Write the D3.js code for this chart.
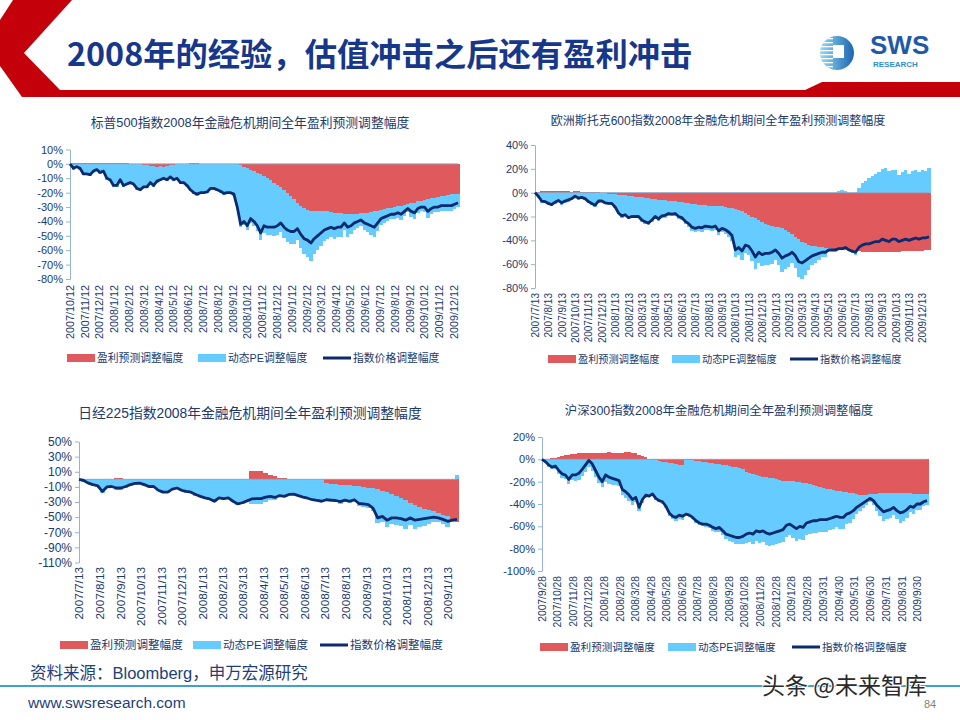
<!DOCTYPE html>
<html><head><meta charset="utf-8">
<script src="https://cdn.jsdelivr.net/npm/d3@7"></script>
<style>
body{margin:0;background:#fff}
svg{display:block}
</style></head><body>
<svg id="slide" width="960" height="720"></svg>
<script>
// ---- S&P 500 ----
const spLabels = ["2007/10/12","2007/11/12","2007/12/12","2008/1/12","2008/2/12","2008/3/12","2008/4/12","2008/5/12","2008/6/12","2008/7/12","2008/8/12","2008/9/12","2008/10/12","2008/11/12","2008/12/12","2009/1/12","2009/2/12","2009/3/12","2009/4/12","2009/5/12","2009/6/12","2009/7/12","2009/8/12","2009/9/12","2009/10/12","2009/11/12","2009/12/12"]
const spTicks = [10,0,-10,-20,-30,-40,-50,-60,-70,-80]
const spIdx = [0,-3,-2,-3,-7,-7,-7.5,-5,-4,-6,
  -5,-10,-11,-15,-15,-11,-15,-14,-13,-14,
  -17,-18,-16,-16,-13,-15,-12,-11,-10,-11,
  -9,-11,-10,-13,-13,-15,-18,-20,-21,-20,
  -20,-19.5,-17,-17,-18,-19,-20.5,-20,-20,-21,
  -30,-42,-40,-43,-38,-40,-43,-48,-43,-44,
  -44,-44,-43,-41,-44,-46,-47,-47,-45,-49,
  -52,-53,-55,-52,-50,-48,-46,-45,-44,-45,
  -44,-44,-41,-44,-43,-41,-40,-39,-41,-42,
  -43,-44,-41,-38,-37,-36,-35,-35,-34,-35,
  -33,-31,-33,-34,-31,-30,-30,-33,-31,-30,
  -30,-29,-29,-29,-29,-28,-27]
const spEarn = [0,0.5,0.5,0.5,0.5,0.5,0.5,0.5,0.5,0.3,
  0.3,0.3,0.3,0.5,0.5,0.5,0.5,0.3,0,0,
  0,0,-0.5,-1,-1.5,-1.5,-2,-1.5,-2,-1.5,
  -1,-0.5,0,0,0,0,0.3,0.5,0.3,0,
  0,0,0,0,0,0,0,0,0,0,
  0,-1,-2,-3,-4,-5,-6,-7,-8.5,-10,
  -11.5,-13,-14.5,-16,-18,-20,-22,-24.5,-27,-29.5,
  -31,-32,-32.5,-32.5,-32.5,-33,-33,-33,-33.5,-34,
  -34,-34,-34.5,-34.5,-34.5,-34.5,-34.5,-34,-34,-34,
  -33.5,-33,-32.5,-32,-31.5,-31,-30.5,-30,-29.5,-29,
  -28.5,-28,-27.5,-27,-26,-25.5,-25,-24.5,-24,-23.5,
  -23,-22.5,-22,-21.5,-21,-21,-21]
const spPE = [0,-4,-3,-4,-8,-8,-8.5,-6,-5,-7,
  -6,-11,-12,-16,-16,-12,-16,-15,-14,-15,
  -18,-19,-16.5,-16,-12.5,-14.5,-11,-10.5,-9,-10.5,
  -9,-11.5,-11,-14,-14,-16,-19,-21,-22,-21,
  -21,-20.5,-18,-18,-19,-20,-21.5,-21,-21,-22,
  -31,-43,-40.3,-42.7,-36.9,-38.3,-40.9,-45.6,-39.2,-39.3,
  -38.2,-37.1,-34.8,-31.3,-33.2,-34,-33.6,-31.3,-26.2,-29.2,
  -31.9,-32.4,-34.8,-30.4,-27.4,-23.9,-20.9,-19.4,-17.3,-18.2,
  -16.7,-16.7,-11.4,-16,-14.5,-11.4,-9.9,-9.1,-12.1,-13.6,
  -15.8,-17.9,-14.1,-10.3,-9.5,-8.7,-8,-8.6,-7.9,-10,
  -7.8,-5.7,-9.1,-11.1,-8.3,-7.5,-8.2,-12.8,-10.7,-10,
  -10.6,-9.9,-10.5,-11.1,-11.6,-10.4,-9.1]

// ---- STOXX 600 ----
const stLabels = ["2007/7/13","2007/8/13","2007/9/13","2007/10/13","2007/11/13","2007/12/13","2008/1/13","2008/2/13","2008/3/13","2008/4/13","2008/5/13","2008/6/13","2008/7/13","2008/8/13","2008/9/13","2008/10/13","2008/11/13","2008/12/13","2009/1/13","2009/2/13","2009/3/13","2009/4/13","2009/5/13","2009/6/13","2009/7/13","2009/8/13","2009/9/13","2009/10/13","2009/11/13","2009/12/13"]
const stTicks = [40,20,0,-20,-40,-60,-80]
const stIdx = [0,-3,-7,-7.5,-9,-10,-8,-6.5,-8.5,-7,
  -6,-5,-3,-4.5,-4,-5,-7.5,-9,-10.5,-7,
  -7,-8.5,-9,-9,-12,-17,-19.5,-18.5,-21,-20,
  -20,-20,-23,-24.5,-25.5,-23,-20,-22,-19.5,-19,
  -17.5,-18,-17.5,-20,-21,-24,-26,-29,-30,-29,
  -29.5,-28,-28.5,-29,-28,-32,-30,-31,-33,-36,
  -48,-46,-49,-44,-45,-49,-54,-50,-52,-51,
  -51,-50,-48,-51,-55,-53,-52,-50,-53,-58,
  -59,-57,-55,-53,-52,-51,-50,-50,-48,-48,
  -48,-47,-47,-46,-48,-49,-50,-46,-44,-43,
  -43,-42,-41,-41,-39,-40,-41,-39,-39,-41,
  -40,-39,-40,-39,-38,-39,-38,-38,-37]
const stEarn = [0,0.5,1,1,1,1.5,1,1,1.5,1,
  1,0.5,1,1,0.5,0.5,0.5,0.5,0.5,0.5,
  -0.3,-0.5,-0.8,-1,-1.3,-1.6,-2,-2.3,-2.6,-3,
  -3.3,-3.6,-4,-4.4,-4.8,-5.2,-5.5,-5.8,-6.1,-6.4,
  -6.7,-7,-7.3,-7.6,-8,-8.4,-8.8,-9.2,-9.6,-10,
  -10.4,-10.6,-10.8,-11,-11.2,-11.4,-11.6,-12,-12.5,-13,
  -13.5,-14.5,-15.5,-17,-18.5,-20,-21.5,-23,-24.5,-26,
  -27,-28,-28.5,-29,-30,-31.5,-33,-35,-37,-39,
  -41,-42.5,-43.5,-44.5,-45,-45.5,-46,-46.3,-46.6,-46.9,
  -47.2,-47.5,-47.7,-48,-48.2,-48.5,-48.8,-49,-49.5,-49.5,
  -49.7,-49.8,-50,-50,-50,-50,-49.8,-49.7,-49.5,-49.5,
  -49.3,-49.2,-49,-49,-48.8,-48.7,-48.6,-48.5,-48.5]
const stPE = [0,-4.5,-8.5,-9,-10.5,-11.5,-9.5,-8,-10,-8.5,
  -7.5,-6.5,-4.5,-6,-5.5,-6.5,-9,-10.5,-12,-8.5,
  -7.7,-9,-9.3,-9.1,-11.8,-16.7,-18.9,-17.6,-19.9,-18.5,
  -18.3,-18,-20.8,-22,-22.7,-19.8,-16.3,-18.2,-15.3,-14.5,
  -12.6,-12.8,-12,-14.4,-15.1,-18,-19.9,-22.8,-23.6,-22.1,
  -22.3,-20.5,-20.8,-21.2,-19.9,-24.3,-21.8,-22.6,-24.4,-27.4,
  -40.9,-37.8,-40.6,-33.5,-33.5,-37.3,-42.4,-36.1,-37.4,-34.8,
  -33.9,-31.6,-28.3,-32,-36.7,-32.4,-29.4,-24.1,-26.4,-32.1,
  -31.5,-26.2,-21.4,-16.3,-13.7,-11.1,-8.4,-7.9,-3.6,-3.1,
  -2.5,1,2.5,1,-1,-2,-3.3,4,8,10,
  12,14,16,17,20,21,18,19,19,15,
  17,19,16,18,19,17,19,18,21]

// ---- Nikkei 225 ----
const nkLabels = ["2007/7/13","2007/8/13","2007/9/13","2007/10/13","2007/11/13","2007/12/13","2008/1/13","2008/2/13","2008/3/13","2008/4/13","2008/5/13","2008/6/13","2008/7/13","2008/8/13","2008/9/13","2008/10/13","2008/11/13","2008/12/13","2009/1/13"]
const nkTicks = [50,30,10,-10,-30,-50,-70,-90,-110]
const nkIdx = [0,-1.5,-5,-7,-8.5,-16,-10,-9.5,-11.5,-11.5,
  -9.5,-7,-5.5,-5,-7,-9.5,-9.5,-14.5,-17,-17,
  -13,-11.5,-14.5,-16,-17,-20,-22.5,-24.5,-26,-29,
  -24.5,-25.5,-24.5,-29,-32.5,-31,-28.5,-26,-25.5,-25.5,
  -23.5,-22.5,-24,-21.5,-22.5,-20,-19.5,-21.5,-23.5,-25,
  -27,-28,-29,-27,-27.5,-28,-29.5,-27.5,-29,-27,
  -32,-32.5,-33.5,-38,-51,-49,-54,-51,-51,-52,
  -54,-51,-54,-53,-52,-51,-50,-51,-53,-55.5,
  -54,-53]
const nkEarn = [0,0.5,0.8,0.8,0.8,1,1,1,1.5,2,
  1,0.8,0.8,0.8,0.8,0.8,0.8,0.8,0.8,0.8,
  0.8,0.8,0.8,0.8,0.8,0.8,0.8,0.8,0.8,0.8,
  0.8,0.8,0.8,0.8,0.8,0,0,11,11,11,
  9,6,4,2,2,1,0.5,0.5,0,0,
  0,0,0,-5,-6,-6.5,-7,-7.5,-8,-8.5,
  -9,-10,-11,-12,-13,-15,-17,-19,-22,-25,
  -28,-31,-34,-37,-39,-41,-42.5,-45,-47,-49,
  -53,-57]
const nkPE = [0,-3,-6.5,-8.5,-10,-17.5,-11.5,-11,-13.5,-14,
  -11,-8.5,-7,-6.5,-8.5,-11,-11,-16,-18.5,-18.5,
  -14.5,-13,-16,-17.5,-18.5,-21.5,-24,-26,-27.5,-30.5,
  -26,-27,-26,-30.5,-34,-32,-29.5,-33.3,-32.9,-32.9,
  -29.8,-26.9,-26.9,-23,-24,-21,-20.5,-22.5,-24.5,-26,
  -28,-29,-30,-24.2,-23.9,-24,-25.2,-22.6,-23.8,-21.2,
  -26.3,-26,-26.3,-30.5,-44.7,-41,-45.6,-40.5,-38.2,-37,
  -37.1,-30,-31.3,-26.4,-22.3,-17.9,-14,-11.9,-12.3,-13.7,
  -3.1,6]

// ---- CSI 300 ----
const csLabels = ["2007/9/28","2007/10/28","2007/11/28","2007/12/28","2008/1/28","2008/2/28","2008/3/28","2008/4/28","2008/5/28","2008/6/28","2008/7/28","2008/8/28","2008/9/28","2008/10/28","2008/11/28","2008/12/28","2009/1/28","2009/2/28","2009/3/31","2009/4/30","2009/5/31","2009/6/30","2009/7/31","2009/8/31","2009/9/30"]
const csTicks = [20,0,-20,-40,-60,-80,-100]
const csIdx = [0,-2,-5,-7,-6,-10,-13,-14,-18,-14,
  -14,-12.5,-9,-5,-1,-4,-10,-16,-20,-14,
  -16,-17,-18,-19,-27,-29,-32,-36,-34,-43,
  -36,-32,-33,-31,-35,-37,-38,-42,-48,-51,
  -52,-50,-51,-49,-50,-52,-55,-57,-58,-58,
  -59,-61,-62,-61,-64,-67,-68,-69,-70,-70,
  -69,-67,-66,-67,-64,-65,-64,-66,-67,-66,
  -65,-64,-63,-59,-58,-60,-62,-60,-61,-57,
  -56,-55,-55,-54,-54,-54,-53,-52,-51,-52,
  -52,-49,-48,-46,-43,-41,-39,-37,-35,-37,
  -41,-44,-47,-46,-45,-43,-46,-48,-47,-45,
  -42,-43,-40,-40,-38,-37]
const csEarn = [0,0,0.5,1,1.5,2.5,3,3.5,4,4.5,
  5,5.5,6,6,5.5,6,6,5.5,5.5,6,
  6.5,6,5.5,5.5,6,6.5,6.5,6,5.5,4,
  3,2,0,-0.5,-1,-1.5,-2,-2.5,-3,-3.5,
  -4,-5,-5.5,-0.3,-0.6,-1,-1.3,-1.6,-2,-2.5,
  -3,-3.5,-4,-4.5,-5,-5.5,-6,-6.5,-7,-7.5,
  -9,-11,-12,-13,-14,-15,-15.5,-16,-16.5,-17,
  -17.5,-18.5,-19,-19.5,-19,-19.5,-20,-20.5,-21,-21.5,
  -22,-23,-24,-25,-26,-26.5,-27,-27.5,-28,-28.5,
  -29,-29.5,-30,-30.5,-31,-31.5,-32,-31.5,-31,-31,
  -31,-30.5,-30.5,-30.5,-30.5,-30.5,-30.5,-30.5,-30.5,-30.5,
  -30.5,-31,-31,-31,-31,-31]
const csPE = [0,-3,-6.5,-8.9,-8.4,-13.2,-16.5,-17.9,-22.2,-18.7,
  -19.1,-18.1,-15.2,-11.4,-7.2,-10.4,-16.1,-21.4,-25.2,-19.9,
  -22.1,-22.7,-23.3,-24.2,-32.1,-34.3,-37.2,-40.6,-38.4,-46.2,
  -38.9,-34.3,-34,-31.7,-35.3,-37,-37.7,-41.5,-47.4,-50.2,
  -51,-48.4,-49.1,-49.8,-50.7,-52.5,-55.4,-57.3,-58.1,-57.9,
  -58.7,-60.6,-61.4,-60.2,-63.1,-66.1,-67,-67.8,-68.7,-68.6,
  -66.9,-63.9,-62.4,-63.1,-59.1,-59.8,-58.4,-60.5,-61.5,-60,
  -58.6,-56.8,-55.3,-50.1,-49.1,-51.3,-53.5,-50.7,-51.6,-46.2,
  -44.6,-42.6,-41.8,-39.7,-38.8,-38.4,-36.6,-34.8,-32.9,-33.9,
  -33.4,-28.7,-26.7,-23.3,-18.4,-14.9,-11.3,-9,-6.8,-9.7,
  -15.5,-20.4,-24.7,-23.3,-21.9,-19,-23.3,-26.2,-24.7,-21.9,
  -16.9,-18.4,-14,-14,-11.1,-9.7]

const legendNames = ["盈利预测调整幅度", "动态PE调整幅度", "指数价格调整幅度"]

const RED = "#e05a5d", BLUE = "#66ccff", NAVY = "#0c2a6e"
const TXT = "#203a6e", AXIS = "#95b3d7"
const FONT = '"Liberation Sans","Noto Sans CJK SC",sans-serif'
const CJK = '"Noto Sans CJK SC",sans-serif'

const parse = d3.timeParse("%Y/%m/%d")
const svg = d3.select("#slide")

// header band
svg.append("polygon")
  .attr("points", [[13,0],[72,0],[24,53],[60,90],[805,90],[822,82],[960,82],[960,97],[22,97],[0,66],[0,20]].join(" "))
  .attr("fill", "#c4000a")
svg.append("text")
  .attr("x", 67).attr("y", 66)
  .attr("font-family", CJK).attr("font-weight", "bold").attr("font-size", 32.3)
  .attr("fill", "#17388a")
  .text("2008年的经验，估值冲击之后还有盈利冲击")

// logo
const defs = svg.append("defs")
const lg = defs.append("linearGradient").attr("id", "logoGrad")
lg.append("stop").attr("offset", "0%").attr("stop-color", "#8fdcf7")
lg.append("stop").attr("offset", "100%").attr("stop-color", "#1e63b0")
defs.append("clipPath").attr("id", "logoClip").append("circle").attr("cx", 837).attr("cy", 53).attr("r", 17)
const logo = svg.append("g")
logo.append("circle").attr("cx", 837).attr("cy", 53).attr("r", 17).attr("fill", "url(#logoGrad)")
logo.append("g").attr("clip-path", "url(#logoClip)")
  .selectAll("rect").data(d3.range(9)).join("rect")
  .attr("x", 818).attr("width", 15).attr("y", d => 38 + d * 4).attr("height", 1.3).attr("fill", "#fff")
logo.append("rect").attr("x", 833).attr("y", 45).attr("width", 11).attr("height", 13).attr("fill", "#fff")
svg.append("text").attr("x", 870).attr("y", 54).attr("font-family", FONT).attr("font-weight", "bold")
  .attr("font-size", 26).attr("fill", "#1f5aa8").text("SWS")
svg.append("text").attr("x", 873).attr("y", 67).attr("font-family", FONT).attr("font-weight", "bold")
  .attr("font-size", 8).attr("fill", "#2d8fd2").text("RESEARCH")

const charts = [
  { title: "标普500指数2008年金融危机期间全年盈利预测调整幅度", idx: spIdx, earn: spEarn, pe: spPE,
    start: "2007/10/12", end: "2009/12/20", labels: spLabels, ticks: spTicks, x0: 70, x1: 458, yt: 149.5, yb: 279,
    labY: 285, yFont: 11, xFont: 10.8, tx: 250, ty: 127, tFont: 12.8, legY: 358, legX: [67, 198, 323], legFont: 10.8 },
  { title: "欧洲斯托克600指数2008年金融危机期间全年盈利预测调整幅度", idx: stIdx, earn: stEarn, pe: stPE,
    start: "2007/7/13", end: "2009/12/27", labels: stLabels, ticks: stTicks, x0: 535, x1: 929, yt: 145, yb: 288,
    labY: 293, yFont: 11, xFont: 10, tx: 718, ty: 125, tFont: 12, legY: 359, legX: [548, 672, 790], legFont: 10.2 },
  { title: "日经225指数2008年金融危机期间全年盈利预测调整幅度", idx: nkIdx, earn: nkEarn, pe: nkPE,
    start: "2007/7/13", end: "2009/1/26", labels: nkLabels, ticks: nkTicks, x0: 79, x1: 457, yt: 441.5, yb: 562.5,
    labY: 567, yFont: 12, xFont: 11.8, tx: 250, ty: 418, tFont: 13.8, legY: 645, legX: [60, 193, 320], legFont: 11.6 },
  { title: "沪深300指数2008年金融危机期间全年盈利预测调整幅度", idx: csIdx, earn: csEarn, pe: csPE,
    start: "2007/9/28", end: "2009/10/19", labels: csLabels, ticks: csTicks, x0: 542, x1: 927, yt: 437, yb: 571,
    labY: 576, yFont: 11, xFont: 10.3, tx: 719, ty: 415, tFont: 12.4, legY: 647, legX: [540, 668, 792], legFont: 10.6 }
]

charts.forEach(drawChart)

function drawChart(c) {
  const n = c.idx.length
  const xt = d3.scaleTime().domain([parse(c.start), parse(c.end)]).range([c.x0, c.x1])
  const xi = d3.scaleLinear().domain([0, n - 1]).range([c.x0, c.x1])
  const y = d3.scaleLinear().domain([c.ticks[c.ticks.length - 1], c.ticks[0]]).range([c.yb, c.yt])
  const rows = c.idx.map((v, i) => ({ i: i, idx: v, earn: c.earn[i], pe: c.pe[i] }))
  const series = d3.stack().keys(["earn", "pe"]).offset(d3.stackOffsetDiverging)(rows)
  const bw = (c.x1 - c.x0) / (n - 1) * 1.02
  const g = svg.append("g")

  g.selectAll("g.s").data(series).join("g")
    .attr("class", "s")
    .attr("shape-rendering", "crispEdges")
    .attr("fill", (d, i) => [RED, BLUE][i])
    .selectAll("rect").data(d => d).join("rect")
    .attr("x", d => xi(d.data.i) - bw / 2)
    .attr("width", bw)
    .attr("y", d => y(Math.max(d[0], d[1])))
    .attr("height", d => Math.abs(y(d[0]) - y(d[1])))

  // category axis at 0
  g.append("line")
    .attr("x1", c.x0).attr("x2", c.x1).attr("y1", y(0)).attr("y2", y(0))
    .attr("stroke", "#8fa6c6").attr("stroke-width", 1)

  const ya = g.append("g")
    .attr("transform", `translate(${c.x0},0)`)
    .call(d3.axisLeft(y).tickValues(c.ticks).tickSize(4).tickSizeOuter(0).tickPadding(3).tickFormat(d => d + "%"))
  ya.attr("font-family", FONT).attr("font-size", c.yFont)
  ya.select(".domain").attr("stroke", AXIS)
  ya.selectAll(".tick line").attr("stroke", AXIS)
  ya.selectAll(".tick text").attr("fill", TXT)

  g.selectAll("text.xl").data(c.labels).join("text")
    .attr("class", "xl")
    .attr("transform", d => `translate(${xt(parse(d))},${c.labY}) rotate(-90)`)
    .attr("text-anchor", "end").attr("dy", "0.35em")
    .attr("font-family", FONT).attr("font-size", c.xFont).attr("fill", TXT)
    .text(d => d)

  g.append("path").datum(rows)
    .attr("d", d3.line().x(d => xi(d.i)).y(d => y(d.idx)))
    .attr("fill", "none").attr("stroke", NAVY).attr("stroke-width", 2.8).attr("stroke-linejoin", "round")

  g.append("text")
    .attr("x", c.tx).attr("y", c.ty).attr("text-anchor", "middle")
    .attr("font-family", FONT).attr("font-size", c.tFont).attr("fill", TXT)
    .text(c.title)

  // legend
  legendNames.forEach((name, k) => {
    const lx = c.legX[k]
    if (k < 2) {
      g.append("rect").attr("x", lx).attr("y", c.legY - 4).attr("width", 28).attr("height", 8)
        .attr("fill", [RED, BLUE][k])
    } else {
      g.append("line").attr("x1", lx).attr("x2", lx + 28).attr("y1", c.legY).attr("y2", c.legY)
        .attr("stroke", NAVY).attr("stroke-width", 3)
    }
    g.append("text").attr("x", lx + 30).attr("y", c.legY).attr("dy", "0.35em")
      .attr("font-family", FONT).attr("font-size", c.legFont).attr("fill", TXT)
      .text(name)
  })
}

// footer
svg.append("text").attr("x", 30).attr("y", 679)
  .attr("font-family", FONT).attr("font-size", 16.5).attr("fill", "#1f3f78")
  .text("资料来源：Bloomberg，申万宏源研究")
svg.append("rect").attr("x", 0).attr("y", 685).attr("width", 960).attr("height", 2).attr("fill", "#3fa1cc")
svg.append("text").attr("x", 28).attr("y", 708)
  .attr("font-family", FONT).attr("font-size", 15.5).attr("fill", "#1f3f78")
  .text("www.swsresearch.com")
svg.append("text").attr("x", 924).attr("y", 708)
  .attr("font-family", FONT).attr("font-size", 11).attr("fill", "#7f7f7f")
  .text("84")
svg.append("text").attr("x", 762).attr("y", 694)
  .attr("font-family", CJK).attr("font-size", 23).attr("fill", "#2a2a2a")
  .attr("stroke", "#fff").attr("stroke-width", 2).attr("paint-order", "stroke")
  .text("头条 @未来智库")
</script>
</body></html>
